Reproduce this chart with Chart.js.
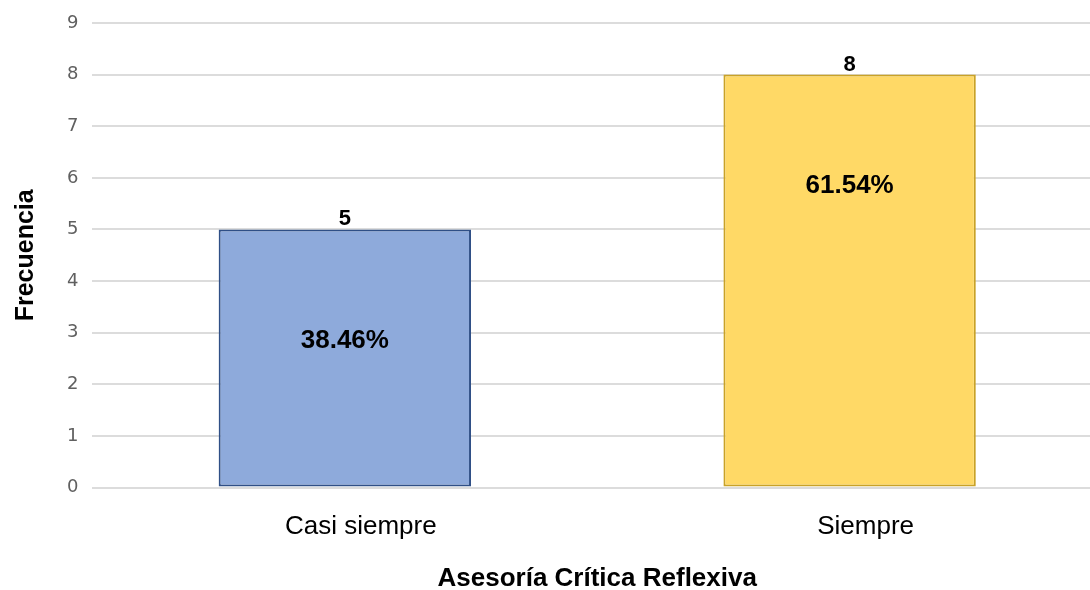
<!DOCTYPE html>
<html>
<head>
<meta charset="utf-8">
<script src="https://cdn.jsdelivr.net/npm/chart.js@4/dist/chart.umd.min.js"></script>
<style>
  html, body { margin: 0; padding: 0; background: #fff; overflow: hidden; }
  #wrap { position: relative; width: 1102px; height: 590px; }
</style>
</head>
<body>
<div id="wrap"><canvas id="chart"></canvas></div>
<script>
const categories = ['Casi siempre', 'Siempre'];
const frecuencia = [5, 8];
const porcentajes = ['38.46%', '61.54%'];
const fillColors = ['#8eaadb', '#ffd966'];
const edgeColors = ['#2f4f86', '#c9a227'];

const FONT = '"Liberation Sans", Arial, sans-serif';

// value on top, percentage inside each bar
const barLabels = {
  id: 'barLabels',
  afterDatasetsDraw(chart) {
    const ctx = chart.ctx;
    const meta = chart.getDatasetMeta(0);
    ctx.save();
    ctx.fillStyle = '#000';
    ctx.textAlign = 'center';
    meta.data.forEach((bar, i) => {
      ctx.font = 'bold 22px ' + FONT;
      ctx.textBaseline = 'alphabetic';
      ctx.fillText(String(frecuencia[i]), bar.x, bar.y - 4);
      ctx.font = 'bold 26px ' + FONT;
      ctx.textBaseline = 'middle';
      ctx.fillText(porcentajes[i], bar.x, bar.y + 111);
    });
    ctx.restore();
  }
};

new Chart(document.getElementById('chart'), {
  type: 'bar',
  data: {
    labels: categories,
    datasets: [{
      data: frecuencia,
      backgroundColor: fillColors,
      borderColor: edgeColors,
      borderWidth: 2,
      borderSkipped: false,
      barPercentage: 0.5,
      categoryPercentage: 1.0,
    }],
  },
  options: {
    responsive: true, maintainAspectRatio: false, animation: false,
    layout: { padding: { top: 12, left: 11, right: 0, bottom: -4 } },
    plugins: { legend: { display: false }, tooltip: { enabled: false } },
    scales: {
      x: {
        grid: { display: false },
        border: { display: false },
        ticks: { color: '#000', font: { family: FONT, size: 26 }, padding: 16, labelOffset: 16 },
        title: {
          display: true, text: 'Asesoría Crítica Reflexiva', color: '#000',
          font: { family: FONT, size: 26, weight: 'bold' },
          padding: { top: 4, bottom: 0 },
        },
      },
      y: {
        min: 0, max: 9,
        grid: { color: '#dcdcdc', lineWidth: 2, drawTicks: false },
        border: { display: false },
        ticks: { stepSize: 1, color: '#606060', font: { family: '"DejaVu Sans", sans-serif', size: 18, lineHeight: 1 }, padding: 14 },
        title: {
          display: true, text: 'Frecuencia', color: '#000',
          font: { family: FONT, size: 25, weight: 'bold' },
          padding: { top: 0, bottom: 12 },
        },
      },
    },
  },
  plugins: [barLabels],
});
</script>
</body>
</html>
